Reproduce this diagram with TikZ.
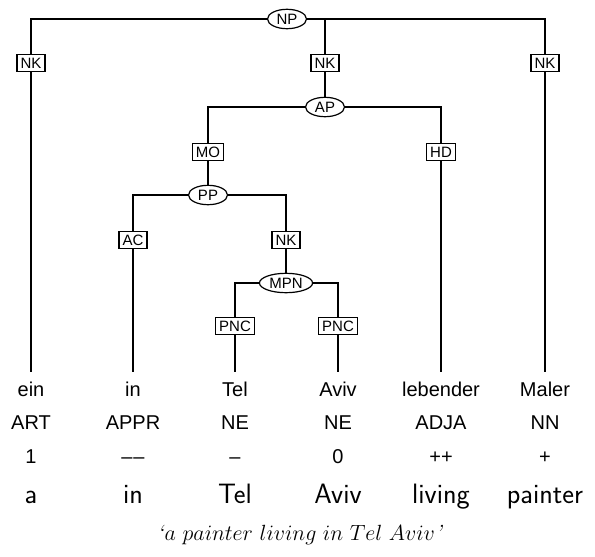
\documentclass[tikz,border=0pt]{standalone}
\usepackage{fix-cm}
\usepackage{fontspec}
\newfontfamily\treefont{Liberation Sans}
\usepackage{tikz}
\usetikzlibrary{shapes}

\begin{document}
\begin{tikzpicture}[x=1pt, y=-1pt, line width=1.2pt]
		\tikzstyle{every node} = [font = \treefont]
		\tikzstyle{cat} = [draw, ellipse, fill=white, inner xsep=2.1pt, inner ysep=1.7pt,
			minimum width=39pt, font = \treefont\fontsize{15}{15}\selectfont]
		\tikzstyle{func} = [draw, rectangle, fill=white, inner sep=3.5pt,
			font = \treefont\fontsize{15}{15}\selectfont]
		\tikzstyle{row} = [anchor=base, inner sep=0pt,
			font = \treefont\fontsize{20}{20}\selectfont]
		\tikzstyle{leaf} = [row, text height=14pt, inner ysep=10pt]
		\tikzstyle{gloss} = [anchor=base, inner sep=0pt,
			font = \sffamily\fontsize{28}{28}\selectfont]
		\useasboundingbox (0,0) rectangle (595,557);
				% terminals: word, tag, morph, gloss
				\foreach \x/\w/\t/\m/\g [count=\i] in {31/ein/ART/1/a,
					133/in/APPR/–\kern1pt–/in, 235/Tel/NE/–/Tel, 338/Aviv/NE/0/Aviv,
					441/lebender/ADJA/++/living, 545/Maler/NN/+/painter} {
					\node[leaf] (w\i) at (\x,396.5) {\w};
					\node[row] (t\i) at (\x,429.5) {\t};
					\node[row] (m\i) at (\x,463) {\m};
					\node[gloss] (g\i) at (\x,503) {\g};
				}
				% phrases
				\node[cat] (NP) at (287,19) {NP};
				\node[cat] (AP) at (325,107) {AP};
				\node[cat] (PP) at (208,195) {PP};
				\node[cat] (MPN) at (286,283) {MPN};
				% edge labels
				\node[func] (nk1) at (31,63) {NK};
				\node[func] (nk2) at (325,63) {NK};
				\node[func] (nk3) at (545,63) {NK};
				\node[func] (mo) at (208,152) {MO};
				\node[func] (hd) at (441,152) {HD};
				\node[func] (ac) at (133,240) {AC};
				\node[func] (nk4) at (286,240) {NK};
				\node[func] (pnc1) at (235,326) {PNC};
				\node[func] (pnc2) at (338,326) {PNC};
				% edges
				\path[draw] (w1) -- (nk1) |- (NP);
				\path[draw] (AP) -- (nk2) -- (nk2 |- NP);
				\path[draw] (w6) -- (nk3) |- (NP);
				\path[draw] (PP) -- (mo) |- (AP);
				\path[draw] (w5) -- (hd) |- (AP);
				\path[draw] (w2) -- (ac) |- (PP);
				\path[draw] (MPN) -- (nk4) |- (PP);
				\path[draw] (w3) -- (pnc1) |- (MPN);
				\path[draw] (w4) -- (pnc2) |- (MPN);
				% translation
				\node[anchor=base, font = \fontsize{22}{22}\selectfont] (trans)
					at (300,540) {\textit{`}$a\ painter\ living\ in\ Tel\ Aviv$\textit{'}};
	\end{tikzpicture}
\end{document}
